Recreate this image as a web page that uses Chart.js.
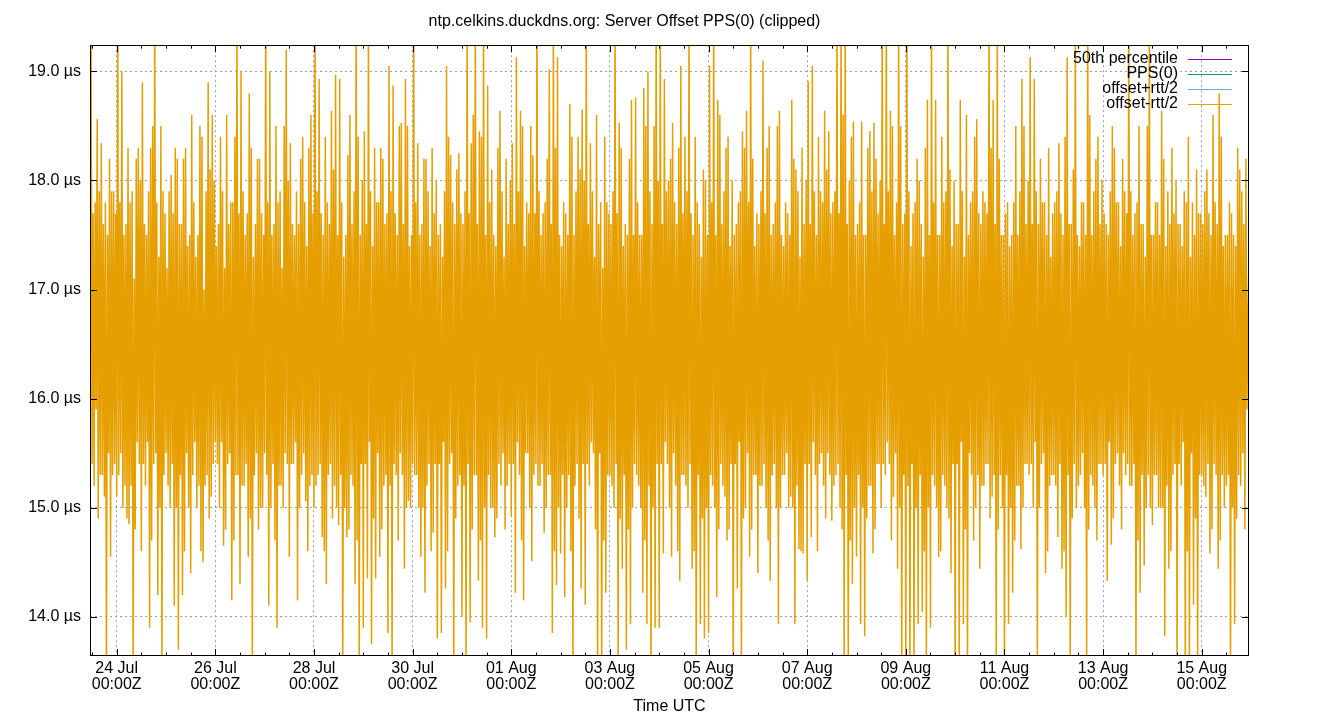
<!DOCTYPE html>
<html>
<head>
<meta charset="utf-8">
<title>ntp.celkins.duckdns.org: Server Offset PPS(0)</title>
<script src="https://cdn.jsdelivr.net/npm/chart.js@4/dist/chart.umd.min.js"></script>
<style>
  html, body { margin: 0; padding: 0; background: #fff; }
  canvas { display: block; }
</style>
</head>
<body>
<canvas id="chart" width="1340" height="720"></canvas>
<script>
// offset-rtt/2 in µs, one sample every half hour.
// hour 0 = 24 Jul 00:00Z; first sample is 23 Jul 11:00Z
var firstHour = -13
var stepHours = 0.5

var jul23 = [15.8, 19.6, 15.4, 17.7, 15.2, 17.8, 15.9, 18.56, 14.9, 17.9, 15.3, 18.34, 15.3,
  17.6, 15.1, 17.8, 13.4, 17.5, 15.5, 18.2, 14.55, 17.9, 15.3, 17.9, 15.4, 17.7]
var jul24_25 = [
  15.1, 19.6, 15.3, 17.8, 15.5, 19.0, 15.0, 17.5, 15.2, 17.6, 14.9, 18.3, 14.85, 17.8, 15.2, 17.9, 13.4, 17.1, 14.8, 18.2, 15.6, 18.3, 15.4, 18.0,
  14.6, 18.9, 15.4, 17.6, 15.2, 17.5, 15.6, 17.9, 13.9, 18.3, 14.7, 18.5, 15.4, 19.6, 15.5, 17.8, 14.2, 17.3, 15.0, 18.5, 13.4, 17.9, 15.3, 17.7,
  15.5, 17.2, 15.2, 17.9, 15.0, 18.05, 15.4, 17.7, 14.1, 18.3, 15.0, 18.2, 13.7, 17.6, 15.3, 17.6, 14.2, 18.2, 14.6, 18.3, 15.5, 17.4, 15.0, 17.5,
  14.4, 18.6, 15.3, 17.8, 15.6, 17.3, 15.0, 17.5, 15.2, 18.5, 14.6, 18.4, 14.5, 17.0, 15.2, 17.9, 15.3, 18.9, 14.9, 18.1, 15.1, 18.6, 15.4, 18.0]
var jul26_27 = [
  15.6, 17.4, 15.4, 17.6, 15.0, 18.4, 15.6, 17.9, 14.65, 17.2, 14.8, 18.6, 15.4, 17.6, 15.5, 17.8, 14.15, 17.8, 14.7, 18.4, 15.3, 19.6, 15.3, 17.7,
  14.3, 19.0, 15.2, 17.9, 15.2, 17.5, 15.4, 17.7, 14.55, 18.8, 14.9, 18.3, 13.4, 17.3, 15.3, 17.6, 15.5, 18.2, 14.8, 18.2, 15.0, 17.7, 15.0, 17.5,
  15.5, 19.6, 15.3, 17.8, 14.1, 19.0, 15.0, 17.5, 15.4, 17.6, 14.7, 18.5, 13.9, 17.8, 15.2, 17.9, 15.2, 17.2, 15.0, 18.5, 15.5, 19.2, 15.4, 18.0,
  14.55, 18.34, 15.4, 17.6, 15.4, 17.5, 15.6, 17.9, 14.15, 17.6, 15.0, 18.2, 15.3, 18.4, 15.5, 17.8, 15.06, 17.4, 14.6, 18.3, 15.2, 18.6, 15.3, 17.7]
var jul28_29 = [
  15.0, 19.6, 15.2, 17.9, 15.3, 18.93, 15.4, 17.7, 14.73, 17.5, 14.6, 18.4, 14.3, 17.8, 15.3, 17.6, 15.4, 18.64, 14.9, 18.1, 15.2, 18.97, 15.0, 17.5,
  14.84, 18.93, 15.3, 17.8, 13.4, 17.3, 15.0, 17.5, 14.73, 18.23, 14.8, 18.6, 15.3, 17.6, 15.2, 17.9, 14.3, 19.6, 14.7, 18.4, 13.4, 17.5, 15.4, 18.0,
  13.9, 18.45, 15.4, 17.6, 14.35, 19.6, 15.6, 17.9, 13.75, 17.4, 14.9, 18.3, 14.35, 17.8, 15.5, 17.8, 14.55, 18.3, 14.8, 18.2, 15.2, 17.6, 15.3, 17.7,
  13.85, 19.05, 15.2, 17.9, 13.4, 18.87, 15.4, 17.7, 15.3, 17.5, 14.7, 18.5, 15.5, 18.53, 15.3, 17.6, 14.44, 18.93, 15.0, 18.5, 15.06, 17.4, 15.0, 17.5]
var jul30_31 = [
  15.4, 19.6, 15.3, 17.8, 15.3, 18.34, 15.0, 17.5, 14.55, 17.6, 15.0, 18.2, 14.22, 18.2, 15.2, 17.9, 15.4, 17.4, 14.6, 18.3, 14.77, 17.7, 15.4, 18.0,
  13.8, 17.5, 15.4, 17.6, 13.85, 17.3, 15.6, 17.9, 14.26, 19.05, 14.6, 18.4, 15.4, 18.23, 15.5, 17.8, 13.4, 17.6, 14.9, 18.1, 15.2, 18.25, 15.3, 17.7,
  14.0, 17.6, 15.2, 17.9, 13.4, 19.6, 15.4, 17.7, 13.95, 18.34, 14.8, 18.6, 15.3, 19.6, 15.3, 17.6, 14.33, 18.45, 14.7, 18.4, 13.9, 19.6, 15.0, 17.5,
  13.8, 18.87, 15.3, 17.8, 15.0, 18.1, 15.0, 17.5, 14.73, 17.4, 14.9, 18.3, 15.4, 18.64, 15.2, 17.9, 15.5, 17.3, 14.8, 18.2, 15.2, 17.6, 15.4, 18.0]
var aug01_02 = [
  14.92, 18.34, 15.4, 17.6, 14.22, 19.13, 15.6, 17.9, 15.3, 18.64, 14.7, 18.5, 14.15, 17.4, 15.5, 17.8, 15.5, 17.7, 15.0, 18.5, 14.51, 18.23, 15.3, 17.7,
  15.4, 19.6, 15.2, 17.9, 15.2, 17.5, 15.4, 17.7, 14.77, 17.8, 15.0, 18.2, 15.3, 19.02, 15.3, 17.6, 13.85, 19.6, 14.6, 18.3, 14.29, 19.13, 15.0, 17.5,
  14.58, 17.4, 15.3, 17.8, 14.18, 17.7, 15.0, 17.5, 15.3, 18.7, 14.6, 18.4, 13.4, 17.5, 15.2, 17.9, 15.4, 18.4, 14.9, 18.1, 14.26, 18.65, 15.4, 18.0,
  14.11, 19.6, 15.4, 17.6, 15.2, 18.34, 15.6, 17.9, 15.5, 17.3, 14.8, 18.6, 13.4, 17.6, 15.5, 17.8, 13.4, 17.2, 14.7, 18.4, 14.22, 17.8, 15.3, 17.7]
var aug03_04 = [
  15.3, 17.6, 15.2, 17.9, 15.0, 19.6, 15.4, 17.7, 13.4, 18.53, 14.9, 18.3, 14.44, 17.4, 15.3, 17.6, 13.7, 17.5, 14.8, 18.2, 13.93, 18.74, 15.0, 17.5,
  15.4, 18.76, 15.3, 17.8, 15.2, 17.5, 15.0, 17.5, 14.22, 18.85, 14.7, 18.5, 13.93, 19.0, 15.2, 17.9, 13.4, 17.6, 15.0, 18.5, 13.9, 19.6, 15.4, 18.0,
  13.9, 19.6, 15.4, 17.6, 14.58, 18.93, 15.6, 17.9, 15.4, 18.0, 15.0, 18.2, 14.55, 18.53, 15.5, 17.8, 15.2, 17.6, 14.6, 18.3, 14.33, 19.05, 15.3, 17.7,
  15.3, 18.4, 15.2, 17.9, 15.0, 19.6, 15.4, 17.7, 14.44, 17.5, 14.6, 18.4, 13.4, 17.8, 15.3, 17.6, 13.93, 17.3, 14.9, 18.1, 13.8, 18.0, 15.0, 17.5]
var aug05_06 = [
  13.85, 19.05, 15.3, 17.8, 15.2, 19.6, 15.0, 17.5, 14.18, 18.74, 14.8, 18.6, 15.4, 17.6, 15.2, 17.9, 15.1, 18.3, 14.7, 18.4, 14.8, 17.4, 15.4, 18.0,
  13.4, 17.5, 15.4, 17.6, 14.26, 17.8, 15.6, 17.9, 13.4, 18.45, 14.9, 18.3, 15.0, 18.64, 15.5, 17.8, 14.55, 19.6, 14.8, 18.2, 15.3, 17.4, 15.3, 17.7,
  14.4, 17.6, 15.2, 17.9, 15.2, 19.1, 15.4, 17.7, 15.0, 18.3, 14.7, 18.5, 14.33, 17.5, 15.3, 17.6, 15.4, 17.8, 15.0, 18.5, 13.93, 18.64, 15.0, 17.5,
  15.3, 17.4, 15.3, 17.8, 15.5, 17.7, 15.0, 17.5, 15.1, 18.74, 15.0, 18.2, 13.93, 18.1, 15.2, 17.9, 14.62, 17.3, 14.6, 18.3, 14.58, 17.6, 15.4, 18.0]
var aug07_08 = [
  14.33, 18.91, 15.4, 17.6, 14.73, 19.05, 15.6, 17.9, 15.3, 17.5, 14.6, 18.4, 15.4, 17.9, 15.5, 17.8, 15.2, 18.64, 14.9, 18.1, 15.5, 18.45, 15.3, 17.7,
  14.88, 17.8, 15.2, 17.9, 15.3, 19.6, 15.4, 17.7, 15.0, 19.6, 14.8, 18.6, 13.4, 19.6, 15.3, 17.6, 13.4, 18.0, 14.7, 18.4, 14.3, 18.54, 15.0, 17.5,
  14.55, 17.6, 15.3, 17.8, 13.93, 18.54, 15.0, 17.5, 13.82, 17.5, 14.9, 18.3, 15.2, 18.45, 15.2, 17.9, 14.58, 18.53, 14.8, 18.2, 15.4, 17.7, 15.4, 18.0,
  15.0, 19.6, 15.4, 17.6, 15.3, 19.6, 15.6, 17.9, 15.4, 18.64, 14.7, 18.5, 15.1, 17.5, 15.5, 17.8, 14.44, 19.6, 15.0, 18.5, 13.4, 17.6, 15.3, 17.7]
var aug09_10 = [
  13.4, 19.6, 15.2, 17.9, 13.4, 17.4, 15.4, 17.7, 13.4, 17.8, 15.0, 18.2, 13.93, 18.0, 15.3, 17.6, 14.04, 17.3, 14.6, 18.3, 13.4, 18.74, 15.0, 17.5,
  13.9, 19.6, 15.3, 17.8, 15.2, 18.74, 15.0, 17.5, 14.55, 17.5, 14.6, 18.4, 15.3, 17.8, 15.2, 17.9, 15.0, 19.6, 14.9, 18.1, 14.4, 17.4, 15.4, 18.0,
  13.4, 17.6, 15.4, 17.6, 13.4, 18.74, 15.6, 17.9, 13.93, 17.3, 14.8, 18.6, 13.4, 17.5, 15.5, 17.8, 15.3, 17.9, 14.7, 18.4, 15.0, 18.56, 15.3, 17.7,
  14.44, 17.6, 15.2, 17.9, 15.2, 17.8, 15.4, 17.7, 15.4, 19.6, 14.9, 18.3, 15.1, 18.74, 15.3, 17.6, 13.4, 19.6, 14.8, 18.2, 15.3, 17.5, 15.0, 17.5]
var aug11_12 = [
  13.4, 17.7, 15.3, 17.8, 13.93, 17.4, 15.0, 17.5, 14.22, 17.8, 14.7, 18.5, 15.2, 17.5, 15.2, 17.9, 14.62, 18.93, 15.0, 18.5, 15.4, 17.6, 15.4, 18.0,
  15.3, 19.13, 15.4, 17.6, 15.0, 18.93, 15.6, 17.9, 13.4, 17.6, 15.0, 18.2, 15.4, 17.8, 15.5, 17.8, 14.4, 17.5, 14.6, 18.3, 15.2, 17.3, 15.3, 17.7,
  15.3, 17.8, 15.2, 17.9, 14.73, 18.34, 15.4, 17.7, 14.44, 17.5, 14.6, 18.4, 14.0, 19.13, 15.3, 17.6, 13.4, 17.6, 14.9, 18.1, 15.4, 19.6, 15.0, 17.5,
  15.2, 17.4, 15.3, 17.8, 15.5, 17.8, 15.0, 17.5, 13.4, 19.6, 14.8, 18.6, 15.3, 17.5, 15.2, 17.9, 15.0, 18.2, 14.7, 18.4, 15.4, 17.6, 15.4, 18.0]
var aug13_14 = [
  15.3, 17.7, 15.4, 17.6, 14.33, 17.5, 15.6, 17.9, 14.66, 18.5, 14.9, 18.3, 15.4, 17.8, 15.5, 17.8, 15.2, 17.4, 14.8, 18.2, 15.5, 17.9, 15.3, 17.7,
  15.4, 19.6, 15.2, 17.9, 15.2, 17.5, 15.4, 17.7, 13.4, 17.8, 14.7, 18.5, 14.22, 17.6, 15.3, 17.6, 14.47, 17.3, 15.0, 18.5, 15.3, 19.6, 15.0, 17.5,
  14.84, 17.5, 15.3, 17.8, 15.3, 17.8, 15.0, 17.5, 15.0, 18.64, 15.0, 18.2, 13.82, 17.4, 15.2, 17.9, 14.44, 17.6, 14.6, 18.3, 15.3, 17.7, 15.4, 18.0,
  13.4, 17.6, 15.4, 17.6, 15.2, 17.4, 15.6, 17.9, 13.4, 17.8, 14.6, 18.4, 13.4, 17.3, 15.5, 17.8, 14.11, 17.5, 14.9, 18.1, 13.4, 17.7, 15.3, 17.7]
var aug15 = [
  15.3, 17.6, 15.2, 17.9, 15.1, 18.1, 15.4, 17.7, 14.58, 17.5, 14.8, 18.6, 15.4, 17.8, 15.3, 17.6, 14.44, 18.8, 14.7, 18.4, 15.3, 17.4, 15.0, 17.5,
  15.2, 17.5, 15.3, 17.8, 13.4, 17.7, 15.0, 17.5, 13.93, 17.4, 14.9, 18.3, 15.3, 18.1, 15.2, 17.9, 15.5, 17.6, 14.8, 18.2, 15.9, 16.8, 17.3, 14.3]

var medianLevel = 16.49

var xMin = -13
var xMax = 551
var yMin = 13.64
var yMax = 19.24

var xTickHours = [0, 48, 96, 144, 192, 240, 288, 336, 384, 432, 480, 528]
var xTickDays = ['24 Jul', '26 Jul', '28 Jul', '30 Jul', '01 Aug', '03 Aug',
                 '05 Aug', '07 Aug', '09 Aug', '11 Aug', '13 Aug', '15 Aug']
var yTickValues = [14, 15, 16, 17, 18, 19]

var offsetMinus = [].concat(jul23, jul24_25, jul26_27, jul28_29, jul30_31,
  aug01_02, aug03_04, aug05_06, aug07_08, aug09_10, aug11_12, aug13_14, aug15)

var offsetPoints = offsetMinus.map(function (v, i) {
  return { x: firstHour + i * stepHours, y: v }
})

var FONT = '"Liberation Sans", Arial, sans-serif'

// gnuplot look: inward ticks on all four sides, closed border, key top right
var gnuplotFrame = {
  id: 'gnuplotFrame',
  afterDatasetsDraw: function (chart) {
    var ctx = chart.ctx
    var a = chart.chartArea
    var x = chart.scales.x
    var y = chart.scales.y
    ctx.save()
    ctx.strokeStyle = '#000'
    ctx.lineWidth = 1
    ctx.beginPath()
    for (var h = Math.ceil(x.min / 12) * 12; h <= x.max; h += 12) {
      var px = Math.round(x.getPixelForValue(h)) + 0.5
      var len = xTickHours.indexOf(h) >= 0 ? 7 : 3.5
      ctx.moveTo(px, a.bottom); ctx.lineTo(px, a.bottom - len)
      ctx.moveTo(px, a.top); ctx.lineTo(px, a.top + len)
    }
    yTickValues.forEach(function (v) {
      var py = Math.round(y.getPixelForValue(v)) + 0.5
      ctx.moveTo(a.left, py); ctx.lineTo(a.left + 7, py)
      ctx.moveTo(a.right, py); ctx.lineTo(a.right - 7, py)
    })
    ctx.stroke()
    ctx.strokeRect(Math.round(a.left) + 0.5, Math.round(a.top) + 0.5,
                   Math.round(a.width) - 1, Math.round(a.height) - 1)

    ctx.font = '16px ' + FONT
    ctx.textAlign = 'right'
    ctx.textBaseline = 'middle'
    ctx.fillStyle = '#000'
    chart.data.datasets.forEach(function (ds, i) {
      var ty = Math.round(a.top + 14 + i * 15)
      ctx.fillText(ds.label, a.right - 71, ty)
      ctx.strokeStyle = ds.borderColor
      ctx.beginPath()
      ctx.moveTo(a.right - 61, ty + 0.5)
      ctx.lineTo(a.right - 17, ty + 0.5)
      ctx.stroke()
    })
    ctx.restore()
  }
}

new Chart(document.getElementById('chart').getContext('2d'), {
  type: 'line',
  data: {
    datasets: [{
      label: '50th percentile',
      data: [{ x: xMin, y: medianLevel }, { x: xMax, y: medianLevel }],
      borderColor: '#9400d3',
      borderWidth: 1,
      order: 3
    }, {
      // rtt is ~0 for a PPS refclock: these traces sit exactly under
      // offset-rtt/2 and none of them shows in the picture
      label: 'PPS(0)',
      data: [],
      borderColor: '#009e73',
      borderWidth: 1,
      order: 2
    }, {
      label: 'offset+rtt/2',
      data: [],
      borderColor: '#56b4e9',
      borderWidth: 1,
      order: 1
    }, {
      label: 'offset-rtt/2',
      data: offsetPoints,
      borderColor: '#e69f00',
      borderWidth: 1.5,
      order: 0
    }]
  },
  options: {
    responsive: false,
    devicePixelRatio: 1,
    animation: false,
    events: [],
    elements: { point: { radius: 0 }, line: { tension: 0 } },
    layout: { padding: { left: 0, right: 91, top: 0, bottom: 0 } },
    plugins: {
      legend: { display: false },
      tooltip: { enabled: false },
      title: {
        display: true,
        text: 'ntp.celkins.duckdns.org: Server Offset PPS(0) (clipped)',
        color: '#000',
        font: { family: FONT, size: 16, weight: 'normal', lineHeight: 1.2 },
        padding: { top: 12, bottom: 14 }
      }
    },
    scales: {
      x: {
        type: 'linear',
        min: xMin,
        max: xMax,
        afterBuildTicks: function (scale) {
          scale.ticks = xTickHours.map(function (v) { return { value: v } })
        },
        afterFit: function (scale) { scale.height = 64 },
        ticks: {
          autoSkip: false,
          maxRotation: 0,
          padding: 5,
          color: '#000',
          font: { family: FONT, size: 16, lineHeight: 1 },
          callback: function (v) {
            var i = xTickHours.indexOf(v)
            return i >= 0 ? [xTickDays[i], '00:00Z'] : ''
          }
        },
        grid: { color: '#a0a0a0', lineWidth: 1, drawTicks: false },
        border: { display: false, dash: [2, 3] },
        title: {
          display: true,
          text: 'Time UTC',
          color: '#000',
          font: { family: FONT, size: 16, lineHeight: 1.2 },
          padding: { top: 0, bottom: 4 }
        }
      },
      y: {
        type: 'linear',
        min: yMin,
        max: yMax,
        afterBuildTicks: function (scale) {
          scale.ticks = yTickValues.map(function (v) { return { value: v } })
        },
        afterFit: function (scale) { scale.width = 90 },
        ticks: {
          padding: 9,
          color: '#000',
          font: { family: FONT, size: 16 },
          callback: function (v) { return v.toFixed(1) + ' µs' }
        },
        grid: { color: '#a0a0a0', lineWidth: 1, drawTicks: false },
        border: { display: false, dash: [2, 3] }
      }
    }
  },
  plugins: [gnuplotFrame]
})
</script>
</body>
</html>
